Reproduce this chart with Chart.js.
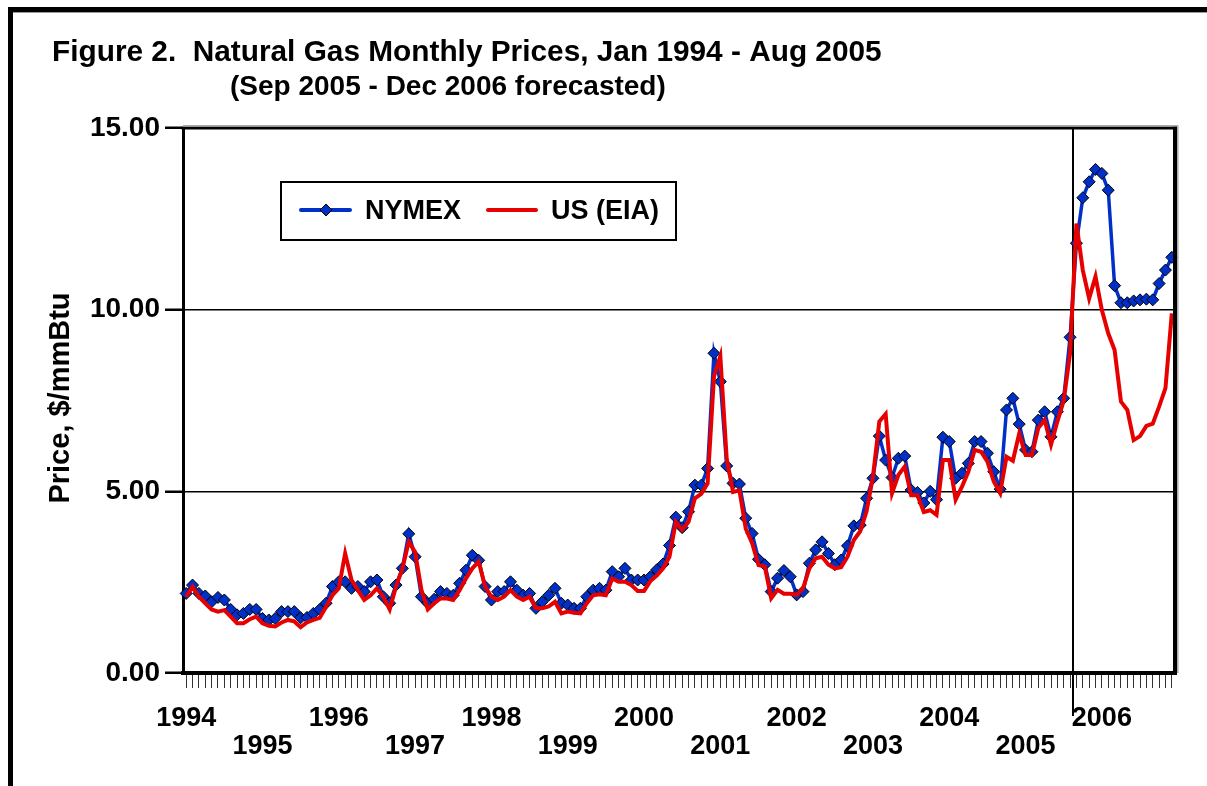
<!DOCTYPE html>
<html>
<head>
<meta charset="utf-8">
<script src="https://cdn.jsdelivr.net/npm/chart.js@4.4.1/dist/chart.umd.min.js"></script>
<style>
  html, body { margin: 0; padding: 0; background: #fff; }
  #wrap { width: 1207px; height: 786px; }
</style>
</head>
<body>
<div id="wrap"><canvas id="myChart" width="1207" height="786"></canvas></div>
<script>
// categories: Jan 1994 .. Dec 2006
const years = ['1994','1995','1996','1997','1998','1999','2000','2001','2002','2003','2004','2005','2006'];
const monthNames = ['Jan','Feb','Mar','Apr','May','Jun','Jul','Aug','Sep','Oct','Nov','Dec'];
const forecastStart = 'Sep 2005';

// $/mmBtu
const nymex = [
  2.19, 2.42, 2.19, 2.12, 1.96, 2.08, 2.01, 1.75, 1.60, 1.64, 1.75, 1.75,
  1.50, 1.46, 1.50, 1.69, 1.69, 1.69, 1.52, 1.53, 1.64, 1.75, 1.92, 2.38,
  2.51, 2.51, 2.33, 2.38, 2.24, 2.51, 2.56, 2.10, 1.92, 2.42, 2.88, 3.83,
  3.20, 2.10, 1.92, 2.03, 2.24, 2.19, 2.14, 2.47, 2.83, 3.24, 3.10, 2.38,
  2.01, 2.24, 2.24, 2.51, 2.28, 2.14, 2.19, 1.78, 1.96, 2.14, 2.33, 1.92,
  1.87, 1.78, 1.78, 2.10, 2.28, 2.33, 2.28, 2.79, 2.65, 2.88, 2.56, 2.56,
  2.56, 2.65, 2.84, 3.00, 3.51, 4.29, 4.00, 4.44, 5.17, 5.17, 5.63, 8.80,
  8.02, 5.70, 5.22, 5.20, 4.26, 3.84, 3.13, 2.98, 2.24, 2.61, 2.82, 2.65,
  2.15, 2.24, 3.02, 3.39, 3.61, 3.29, 2.98, 3.11, 3.50, 4.05, 4.07, 4.81,
  5.36, 6.52, 5.86, 5.38, 5.91, 5.97, 5.04, 4.97, 4.68, 5.00, 4.77, 6.49,
  6.37, 5.36, 5.50, 5.77, 6.37, 6.37, 6.05, 5.54, 5.06, 7.24, 7.56, 6.85,
  6.14, 6.09, 6.96, 7.19, 6.50, 7.19, 7.56, 9.24, 11.83, 13.08, 13.52, 13.86,
  13.75, 13.29, 10.66, 10.19, 10.19, 10.24, 10.27, 10.29, 10.27, 10.72, 11.09, 11.44
];
const usEia = [
  2.10, 2.37, 2.10, 1.92, 1.75, 1.69, 1.73, 1.55, 1.37, 1.37, 1.48, 1.55,
  1.37, 1.30, 1.28, 1.39, 1.46, 1.42, 1.26, 1.39, 1.46, 1.52, 1.82, 2.14,
  2.33, 3.29, 2.56, 2.28, 2.01, 2.14, 2.33, 2.10, 1.75, 2.38, 2.87, 3.61,
  3.33, 2.28, 1.75, 1.92, 2.05, 2.05, 2.01, 2.28, 2.60, 2.88, 3.06, 2.38,
  2.10, 2.01, 2.10, 2.28, 2.10, 2.01, 2.10, 1.78, 1.78, 1.83, 1.96, 1.64,
  1.69, 1.66, 1.64, 1.92, 2.14, 2.17, 2.14, 2.60, 2.51, 2.51, 2.42, 2.26,
  2.26, 2.53, 2.68, 2.88, 3.20, 4.16, 3.94, 4.16, 4.81, 4.93, 5.22, 8.16,
  8.72, 5.90, 4.98, 5.03, 3.97, 3.57, 2.97, 2.93, 2.06, 2.29, 2.18, 2.18,
  2.15, 2.33, 2.88, 3.16, 3.20, 2.98, 2.88, 2.91, 3.20, 3.66, 3.90, 4.45,
  5.40, 6.92, 7.13, 4.95, 5.45, 5.68, 4.89, 4.89, 4.43, 4.48, 4.35, 5.86,
  5.86, 4.77, 5.13, 5.54, 6.14, 6.09, 5.82, 5.27, 4.95, 5.95, 5.84, 6.59,
  6.00, 6.00, 6.74, 6.96, 6.28, 6.92, 7.50, 8.80, 12.37, 11.09, 10.31, 10.91,
  9.99, 9.35, 8.89, 7.47, 7.24, 6.41, 6.52, 6.80, 6.86, 7.33, 7.84, 9.90
];

const labels = [];
years.forEach(y => monthNames.forEach(m => labels.push(m + ' ' + y)));

const FONT = "'Liberation Sans', Arial, Helvetica, sans-serif";
const BLUE = '#0030c8';
const RED = '#e60000';

const figureDecor = {
  id: 'figureDecor',
  beforeDraw: (chart) => {
    const { ctx } = chart;
    ctx.save();
    ctx.fillStyle = '#fff';
    ctx.fillRect(0, 0, chart.width, chart.height);
    // outer frame (top and left)
    ctx.fillStyle = '#000';
    ctx.fillRect(8, 7, chart.width - 8, 5);
    ctx.fillRect(8, 7, 5, chart.height - 7);
    ctx.fillStyle = '#999';
    ctx.fillRect(13, 12, chart.width - 13, 1);
    // titles
    ctx.fillStyle = '#000';
    ctx.textAlign = 'left';
    ctx.textBaseline = 'alphabetic';
    ctx.font = 'bold 29.8px ' + FONT;
    ctx.fillText('Figure 2.  Natural Gas Monthly Prices, Jan 1994 - Aug 2005', 52, 61);
    ctx.font = 'bold 28px ' + FONT;
    ctx.fillText('(Sep 2005 - Dec 2006 forecasted)', 230, 95);
    // y title
    ctx.translate(61, 398);
    ctx.rotate(-Math.PI / 2);
    ctx.textAlign = 'center';
    ctx.textBaseline = 'middle';
    ctx.font = 'bold 29px ' + FONT;
    ctx.fillText('Price, $/mmBtu', 0, 0);
    ctx.restore();
  },
  beforeDatasetsDraw: (chart) => {
    const { ctx, chartArea: { top }, scales: { x } } = chart;
    const xp = Math.round(x.getPixelForValue(labels.indexOf(forecastStart))) - 3;
    ctx.save();
    ctx.strokeStyle = '#000';
    ctx.lineWidth = 2;
    ctx.beginPath();
    ctx.moveTo(xp, top);
    ctx.lineTo(xp, 716);
    ctx.stroke();
    ctx.restore();
  },
  afterDraw: (chart) => {
    const { ctx, chartArea: { top, bottom, left, right } } = chart;
    ctx.save();
    // rest of the plot frame
    ctx.strokeStyle = '#000';
    ctx.lineWidth = 3;
    ctx.beginPath();
    ctx.moveTo(left - 1.5, top);
    ctx.lineTo(right + 2, top);
    ctx.stroke();
    ctx.lineWidth = 4;
    ctx.beginPath();
    ctx.moveTo(right, top - 1.5);
    ctx.lineTo(right, bottom + 2);
    ctx.stroke();
    ctx.strokeStyle = '#aaa';
    ctx.lineWidth = 1.5;
    ctx.beginPath();
    ctx.moveTo(right + 2.8, top - 2.5);
    ctx.lineTo(right + 2.8, bottom);
    ctx.moveTo(left, top - 2.2);
    ctx.lineTo(right + 2.8, top - 2.2);
    ctx.stroke();

    // legend box
    const bx = 281, by = 182, bw = 395, bh = 58, ly = 210;
    ctx.fillStyle = '#fff';
    ctx.fillRect(bx, by, bw, bh);
    ctx.strokeStyle = '#000';
    ctx.lineWidth = 2;
    ctx.strokeRect(bx, by, bw, bh);
    ctx.lineCap = 'round';
    ctx.lineWidth = 4;
    ctx.strokeStyle = BLUE;
    ctx.beginPath();
    ctx.moveTo(301, ly);
    ctx.lineTo(350, ly);
    ctx.stroke();
    ctx.lineCap = 'butt';
    ctx.fillStyle = BLUE;
    ctx.strokeStyle = '#000';
    ctx.lineWidth = 1;
    ctx.beginPath();
    ctx.moveTo(326, ly - 6);
    ctx.lineTo(332, ly);
    ctx.lineTo(326, ly + 6);
    ctx.lineTo(320, ly);
    ctx.closePath();
    ctx.fill();
    ctx.stroke();
    ctx.lineCap = 'round';
    ctx.lineWidth = 4;
    ctx.strokeStyle = RED;
    ctx.beginPath();
    ctx.moveTo(488, ly);
    ctx.lineTo(536, ly);
    ctx.stroke();
    ctx.fillStyle = '#000';
    ctx.font = 'bold 27px ' + FONT;
    ctx.textAlign = 'left';
    ctx.textBaseline = 'middle';
    ctx.fillText('NYMEX', 365, ly + 2);
    ctx.fillText('US (EIA)', 551, ly + 2);
    ctx.restore();
  }
};

const config = {
  type: 'line',
  data: {
    labels: labels,
    datasets: [
      {
        label: 'US (EIA)',
        data: usEia,
        borderColor: RED,
        backgroundColor: RED,
        borderWidth: 4,
        pointRadius: 0,
        tension: 0,
        order: 0
      },
      {
        label: 'NYMEX',
        data: nymex,
        borderColor: BLUE,
        backgroundColor: BLUE,
        borderWidth: 3.5,
        pointStyle: 'rectRot',
        pointRadius: 6,
        pointBackgroundColor: BLUE,
        pointBorderColor: '#000',
        pointBorderWidth: 1,
        tension: 0,
        order: 1
      }
    ]
  },
  options: {
    responsive: false,
    animation: false,
    events: [],
    layout: {
      padding: { top: 128, right: 32, left: 0, bottom: 0 }
    },
    scales: {
      x: {
        offset: true,
        afterFit: (s) => { s.height = 113; },
        grid: {
          drawOnChartArea: false,
          drawTicks: true,
          tickLength: 15,
          tickColor: '#333',
          tickWidth: 1,
          offset: false
        },
        border: { display: true, color: '#000', width: 4 },
        ticks: {
          autoSkip: false,
          maxRotation: 0,
          minRotation: 0,
          padding: 16,
          color: '#000',
          font: { family: FONT, size: 27, weight: 'bold', lineHeight: 1.06 },
          callback: function (value, index) {
            const lab = labels[index];
            if (!lab.startsWith('Jan')) return '';
            const yr = lab.slice(4);
            return (Number(yr) % 2 === 0) ? [yr, ''] : ['', yr];
          }
        }
      },
      y: {
        min: 0,
        max: 15,
        afterFit: (s) => { s.width = 183; },
        grid: {
          color: '#000',
          lineWidth: 1.5,
          tickLength: 18,
          tickWidth: 2.5,
          tickColor: '#000'
        },
        border: { display: true, color: '#000', width: 3 },
        ticks: {
          stepSize: 5,
          padding: 5,
          color: '#000',
          font: { family: FONT, size: 28, weight: 'bold' },
          callback: (v) => v.toFixed(2)
        }
      }
    },
    plugins: {
      legend: { display: false },
      title: { display: false },
      tooltip: { enabled: false }
    }
  },
  plugins: [figureDecor]
};

var myChart = new Chart(document.getElementById('myChart'), config);
</script>
</body>
</html>
